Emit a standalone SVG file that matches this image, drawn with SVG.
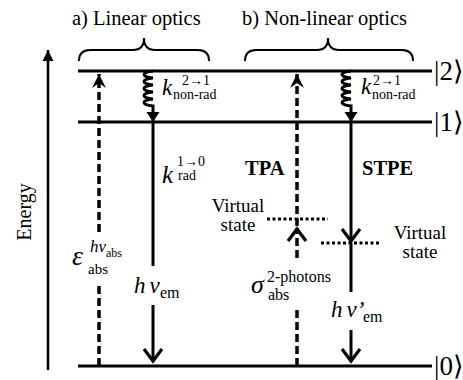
<svg xmlns="http://www.w3.org/2000/svg" width="463" height="380" viewBox="0 0 463 380">
<style>
text{font-family:'Liberation Serif','Times New Roman',serif;fill:#000}
.title{font-size:20.5px}
.lvl{stroke:#000;stroke-width:3;fill:none}
.sol{stroke:#000;stroke-width:3;fill:none}
.wave{stroke:#000;stroke-width:3;fill:none}
.dash{stroke:#000;stroke-width:3.5;fill:none;stroke-dasharray:8 4}
.dot{stroke:#000;stroke-width:3;fill:none;stroke-dasharray:3 2.5}
.brace{stroke:#000;stroke-width:2;fill:none}
.it{font-style:italic}
.ket{font-size:27px}
.bold{font-weight:bold;font-size:20.5px}
.vs{font-size:19px;text-anchor:middle}
</style>
<defs>
<marker id="chev" markerUnits="userSpaceOnUse" markerWidth="30" markerHeight="30" viewBox="-15 -15 30 30" refX="0" refY="0" orient="auto" overflow="visible">
<path d="M-13,-9 L-1,0 L-13,9" fill="none" stroke="#000" stroke-width="3.2" stroke-dasharray="none"/>
</marker>
<marker id="notch" markerUnits="userSpaceOnUse" markerWidth="30" markerHeight="30" viewBox="-15 -15 30 30" refX="0" refY="0" orient="auto" overflow="visible">
<path d="M0,0 L-14,-7 L-9,0 L-14,7 Z" fill="#000" stroke="none"/>
</marker>
<marker id="tri" markerUnits="userSpaceOnUse" markerWidth="30" markerHeight="30" viewBox="-15 -15 30 30" refX="0" refY="0" orient="auto" overflow="visible">
<path d="M0,0 L-10,-6.5 L-10,6.5 Z" fill="#000" stroke="none"/>
</marker>
<marker id="etri" markerUnits="userSpaceOnUse" markerWidth="30" markerHeight="30" viewBox="-15 -15 30 30" refX="0" refY="0" orient="auto" overflow="visible">
<path d="M0,0 L-11,-5.5 L-11,5.5 Z" fill="#000" stroke="none"/>
</marker>
</defs>

<g id="titles">
<text class="title" x="72" y="25">a) Linear optics</text>
<text class="title" x="242" y="25">b) Non-linear optics</text>
<path class="brace" d="M79,61 Q79,50 90,50 L133,50 Q144,50 144,38 Q144,50 155,50 L198,50 Q209,50 209,61"/>
<path class="brace" d="M245,61 Q245,50 256,50 L317,50 Q328,50 328,38 Q328,50 339,50 L402,50 Q413,50 413,61"/>
</g>

<g id="energy-axis">
<path class="sol" style="stroke-width:2.5" d="M48,370 V50" marker-end="url(#etri)"/>
<text x="25" y="212" font-size="20" text-anchor="middle" transform="rotate(-90 25 212)" dy="6">Energy</text>
</g>

<g id="level2">
<path class="lvl" d="M78,71 H432"/>
<text class="ket" x="434" y="80">|2⟩</text>
</g>
<g id="level1">
<path class="lvl" d="M78,122 H432"/>
<text class="ket" x="434" y="131">|1⟩</text>
</g>
<g id="level0">
<path class="lvl" d="M78,366 H432"/>
<text class="ket" x="434" y="375">|0⟩</text>
</g>

<g id="virtual-left">
<path class="dot" d="M267,219 H328"/>
<text class="vs" x="238" y="212">Virtual</text>
<text class="vs" x="238" y="231">state</text>
</g>
<g id="virtual-right">
<path class="dot" d="M321,243 H379"/>
<text class="vs" x="420" y="239">Virtual</text>
<text class="vs" x="420" y="258">state</text>
</g>

<g id="connectors">
<path class="dash" d="M99,366 V282"/>
<path class="dash" d="M99,232 V74" marker-end="url(#notch)"/>
<path class="wave" d="M153,71 c-12,1 -12,6 0,7 c-12,1 -12,6 0,7 c-12,1 -12,6 0,7 c-12,1 -12,6 0,7 c-12,1 -12,6 0,7 V122" marker-end="url(#tri)"/>
<path class="sol" d="M153,122 V266"/>
<path class="sol" d="M153,305 V362" marker-end="url(#chev)"/>
<path class="dash" d="M297,366 V307"/>
<path class="dash" d="M297,258 V228" marker-end="url(#chev)"/>
<path class="dash" d="M297,226 V74" marker-end="url(#notch)"/>
<path class="wave" d="M351,71 c-12,1 -12,6 0,7 c-12,1 -12,6 0,7 c-12,1 -12,6 0,7 c-12,1 -12,6 0,7 c-12,1 -12,6 0,7 V122" marker-end="url(#tri)"/>
<path class="sol" d="M351,122 V242" marker-end="url(#chev)"/>
<path class="sol" d="M351,243 V292"/>
<path class="sol" d="M351,330 V362" marker-end="url(#chev)"/>
</g>

<g id="labels">
<text class="it" x="162" y="95" font-size="23">k</text>
<text x="182" y="85" font-size="14">2→1</text>
<text x="173" y="99" font-size="14">non-rad</text>

<text class="it" x="361" y="94" font-size="23">k</text>
<text x="373" y="85" font-size="14">2→1</text>
<text x="372" y="99" font-size="14">non-rad</text>

<text class="it" x="162" y="183" font-size="25">k</text>
<text x="177" y="166" font-size="14">1→0</text>
<text x="178" y="180" font-size="14">rad</text>

<text class="it" x="72" y="265" font-size="28">ε</text>
<text class="it" x="90" y="252" font-size="17">hν</text>
<text x="106" y="257" font-size="12">abs</text>
<text x="88" y="274" font-size="15">abs</text>

<text class="it" x="134" y="293" font-size="23">h<tspan dx="4">ν</tspan></text>
<text x="160" y="298" font-size="16">em</text>

<text class="it" x="251" y="293" font-size="26">σ</text>
<text x="267" y="282" font-size="16">2-photons</text>
<text x="268" y="300" font-size="16">abs</text>

<text class="it" x="331" y="317" font-size="23">h<tspan dx="4">ν</tspan>’</text>
<text x="363" y="322" font-size="16">em</text>

<text class="bold" x="245" y="175">TPA</text>
<text class="bold" x="362" y="175">STPE</text>
</g>
</svg>
